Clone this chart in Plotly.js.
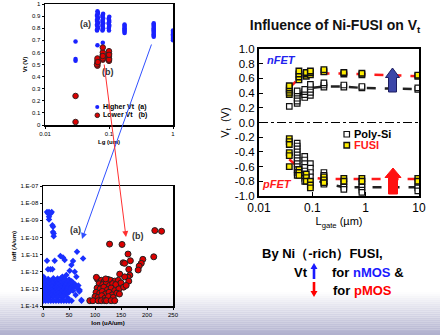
<!DOCTYPE html>
<html><head><meta charset="utf-8">
<script src="https://cdn.plot.ly/plotly-3.0.1.min.js"></script>
<style>html,body{margin:0;padding:0;background:#fff;overflow:hidden}#chart{width:440px;height:335px}</style>
</head><body><div id="chart"></div>
<script>
// ---------- Top-left: Vt vs Lg ----------
const lgHigh = [0.03,0.03,0.03,
  0.066,0.065,0.067,0.065,0.067,0.065,0.067,0.065,0.067,0.066,0.065,0.067,0.065,0.067,0.065,0.067,0.065,0.067,
  0.08,0.079,0.081,0.079,0.081,0.079,0.081,0.079,0.081,0.08,0.08,0.08,0.08,0.08,0.08,0.08,
  0.1,0.099,0.101,0.099,0.101,0.099,0.101,0.1,0.1,0.1,0.1,
  0.175,0.175,0.175,0.175,0.175,0.175,0.175,0.175,
  0.5,0.5,0.5,0.5,0.5,0.5,0.5,0.5,0.5,0.5,0.5,0.5,
  1.0,1.0,1.0,1.0,1.0,1.0,1.0,1.0,1.0];
const vtHigh = [0.69,0.53,0.545,
  0.66,0.78,0.80,0.82,0.84,0.86,0.88,0.90,0.92,0.94,0.79,0.81,0.83,0.85,0.87,0.89,0.91,0.93,
  0.68,0.78,0.80,0.82,0.84,0.86,0.88,0.90,0.92,0.79,0.81,0.83,0.85,0.87,0.89,0.91,
  0.78,0.80,0.82,0.84,0.86,0.88,0.895,0.81,0.83,0.85,0.87,
  0.76,0.77,0.78,0.79,0.80,0.81,0.82,0.83,
  0.73,0.74,0.75,0.76,0.77,0.78,0.79,0.80,0.81,0.82,0.83,0.84,
  0.70,0.71,0.72,0.73,0.74,0.75,0.76,0.77,0.78];
const lgLow = [0.03,0.03, 0.066,0.066,0.066,0.066,0.065,0.067, 0.08,0.08,0.08,0.08,0.08,0.08,0.08, 0.1,0.1,0.1,0.1,0.1,0.1,0.1];
const vtLow = [0.24,0.025, 0.49,0.51,0.53,0.55,0.50,0.52, 0.54,0.56,0.58,0.60,0.64,0.55,0.57, 0.53,0.55,0.57,0.59,0.61,0.54,0.58];

// ---------- Bottom-left: Ioff vs Ion (Ioff stored as log10 exponent) ----------
const ionBlue = [7.7,11.5,16.7,9.6,14.8,11.5,11.5,18,19.2,19.2,20.6,20.6,65.4,77,33.4,38.5,41.7,7.7,22.5,57.7,54.6,9.6,14.2,18,51.3,61,64.2,37.3,45,1,70.6,62.9,73.8,90,
  2,10,20,28,35,42,50,
  5,14,22,30,33,38,45,55,
  1,8,17,25,31,36,40,48,58,
  3,11,19,27,34,39,44,52,62,
  0.5,6,15,23,29,37,43,50,60,68,
  2,9,18,26,32,41,47,55,65,
  4,12,21,28,35,40,46,53,
  1,7,16,24,31,38,44,58,70,
  3,10,19,27,34,42,50,
  0.5,6,14,22,30,37,45,
  2,9,17,25,33,40,
  4,12,20,28,36,48,
  0.5,5,10,15,20,25,30,35,40,45,50,55,74];
const ioffBlueExp = [-8.51,-8.51,-8.51,-8.61,-8.61,-8.80,-8.96,-9.29,-9.38,-9.68,-9.77,-9.93,-10.84,-11.23,-11.09,-11.17,-11.32,-11.36,-11.36,-11.38,-11.61,-11.86,-11.86,-11.86,-11.94,-12.0,-12.29,-12.29,-12.19,-12.3,-13.07,-13.36,-13.65,-13.7,
  -12.4,-12.42,-12.38,-12.4,-12.36,-12.41,-12.45,
  -12.5,-12.52,-12.48,-12.5,-12.47,-12.53,-12.5,-12.55,
  -12.6,-12.62,-12.58,-12.6,-12.57,-12.63,-12.6,-12.61,-12.65,
  -12.7,-12.72,-12.68,-12.7,-12.67,-12.73,-12.7,-12.71,-12.75,
  -12.8,-12.82,-12.78,-12.8,-12.77,-12.83,-12.8,-12.81,-12.85,-12.8,
  -12.9,-12.92,-12.88,-12.9,-12.87,-12.93,-12.9,-12.91,-12.95,
  -13.0,-13.02,-12.98,-13.0,-12.97,-13.03,-13.0,-13.01,
  -13.1,-13.12,-13.08,-13.1,-13.07,-13.13,-13.1,-13.11,-13.15,
  -13.2,-13.22,-13.18,-13.2,-13.17,-13.23,-13.2,
  -13.3,-13.32,-13.28,-13.3,-13.27,-13.33,-13.3,
  -13.4,-13.42,-13.38,-13.4,-13.37,-13.43,
  -13.5,-13.52,-13.48,-13.5,-13.47,-13.53,
  -13.7,-13.7,-13.7,-13.7,-13.7,-13.7,-13.7,-13.7,-13.7,-13.7,-13.7,-13.7,-13.7];
const ionRed = [128,152,163.5,213,154,157,168,192,189,185,183,165,147.5,167,163.5,215,228,
  105,112,118,125,130,138,145,108,115,122,128,134,140,150,104,110,117,124,131,138,146,155,102,109,114,120,127,133,142,100,106,113,119,126,135,157,165,160,147,102.6,120.6,
  90,96,106,112,119,122,131,138];
const ioffRedExp = [-10.39,-10.41,-10.97,-11.13,-11.48,-11.51,-11.36,-11.28,-11.51,-11.67,-11.9,-11.86,-12.14,-12.2,-12.33,-9.6,-9.64,
  -12.45,-12.5,-12.55,-12.45,-12.5,-12.55,-12.5,-12.7,-12.75,-12.65,-12.8,-12.7,-12.75,-12.65,-12.95,-13.0,-12.9,-13.05,-12.95,-13.1,-13.0,-12.9,-13.2,-13.25,-13.15,-13.3,-13.2,-13.35,-13.25,-13.45,-13.5,-13.4,-13.55,-13.45,-13.5,-12.3,-12.55,-12.8,-13.3,-12.33,-12.42,
  -13.69,-13.69,-13.69,-13.69,-13.69,-13.69,-13.69,-13.69];

// ---------- Right: Vt vs Lgate ----------
const polyLg = [0.037, 0.052,0.052,0.052,0.052,0.052,0.052, 0.072,0.072,0.072,0.072, 0.092,0.092,0.092,0.092,0.092, 0.165,0.165,0.165, 0.39,0.39, 0.85,0.85, 9.5,9.5,
  0.052,0.052,0.052,0.052,0.052,0.052,0.052,0.052,0.052,0.052,0.052,0.052, 0.072,0.072,0.072,0.072,0.072,0.072,0.072,0.072, 0.092,0.092,0.092,0.092, 0.165,0.165,0.165,0.165,0.165, 0.39,0.39,0.39, 0.85,0.85,0.85,0.85, 9.5,9.5,9.5];
const polyVt = [0.22, 0.26,0.29,0.33,0.37,0.40,0.43, 0.34,0.38,0.42,0.45, 0.37,0.41,0.45,0.49,0.52, 0.48,0.51,0.54, 0.48,0.51, 0.47,0.49, 0.45,0.47,
  -0.28,-0.32,-0.36,-0.40,-0.44,-0.48,-0.52,-0.56,-0.60,-0.64,-0.68,-0.72, -0.46,-0.51,-0.56,-0.61,-0.66,-0.71,-0.76,-0.80, -0.56,-0.62,-0.68,-0.74, -0.68,-0.72,-0.76,-0.80,-0.84, -0.84,-0.88,-0.91, -0.84,-0.88,-0.92,-0.95, -0.86,-0.89,-0.93];
const fusiLg = [0.037,0.037,0.037,0.037,0.037, 0.056,0.056,0.056,0.056, 0.077,0.077,0.077, 0.092,0.092,0.092, 0.165,0.165, 0.39,0.39, 0.85,0.85, 9.5,9.5,
  0.037,0.037,0.037,0.037,0.037,0.037, 0.056,0.056,0.056, 0.077,0.077,0.077, 0.092,0.092,0.092, 0.165,0.165,0.165, 0.39,0.39, 0.85,0.85, 9.5,9.5];
const fusiVt = [0.38,0.41,0.44,0.47,0.50, 0.58,0.62,0.66,0.70, 0.63,0.66,0.68, 0.65,0.68,0.70, 0.69,0.72, 0.66,0.68, 0.65,0.67, 0.63,0.645,
  -0.22,-0.26,-0.30,-0.41,-0.45,-0.60, -0.64,-0.68,-0.72, -0.70,-0.75,-0.80, -0.80,-0.85,-0.89, -0.74,-0.78,-0.82, -0.76,-0.80, -0.76,-0.80, -0.76,-0.80];
const nFusiLineLg = [0.037,0.056,0.077,0.165,0.39,0.85,10];
const nFusiLineVt = [0.47,0.60,0.65,0.665,0.665,0.655,0.63];
const nPolyLineLg = [0.052,0.072,0.092,0.165,0.39,0.85,10];
const nPolyLineVt = [0.36,0.42,0.47,0.49,0.49,0.47,0.455];
const pFusiLineLg = [0.037,0.056,0.077,0.165,0.39,0.85,10];
const pFusiLineVt = [-0.50,-0.62,-0.74,-0.77,-0.77,-0.77,-0.77];
const pPolyLineLg = [0.072,0.092,0.165,0.39,0.85,10];
const pPolyLineVt = [-0.66,-0.73,-0.83,-0.88,-0.88,-0.88];

const yTicksR = [1,0.8,0.6,0.4,0.2,0,-0.2,-0.4,-0.6,-0.8,-1];
const yTickTextR = ['1.0','0.8','0.6','0.4','0.2','0.0','-0.2','-0.4','-0.6','-0.8','-1.0'];
const ioffTicks = [1e-14,1e-13,1e-12,1e-11,1e-10,1e-9,1e-8,1e-7];
const ioffTickText = ['1.E-14','1.E-13','1.E-12','1.E-11','1.E-10','1.E-09','1.E-08','1.E-07'];

// ---------- layout helpers (pixel -> paper) ----------
const W = 440, H = 335;
const fx = x => x / W, fy = y => 1 - y / H;
const F = 'Liberation Sans, Arial, sans-serif';
const pow10 = a => a.map(v => Math.pow(10, v));

const traces = [
  {x: lgHigh, y: vtHigh, xaxis:'x', yaxis:'y', mode:'markers', type:'scatter',
   marker:{symbol:'circle', size:4.5, color:'#1a22ff'}},
  {x: lgLow, y: vtLow, xaxis:'x', yaxis:'y', mode:'markers', type:'scatter',
   marker:{symbol:'circle', size:5.5, color:'#dd0000', line:{color:'#3a2020', width:1}}},
  {x: ionBlue, y: pow10(ioffBlueExp), xaxis:'x2', yaxis:'y2', mode:'markers', type:'scatter',
   marker:{symbol:'diamond', size:5, color:'#1a30ff'}},
  {x: ionRed, y: pow10(ioffRedExp), xaxis:'x2', yaxis:'y2', mode:'markers', type:'scatter',
   marker:{symbol:'circle', size:6, color:'#dd0000', line:{color:'#222', width:1}}},
  {x: nPolyLineLg, y: nPolyLineVt, xaxis:'x3', yaxis:'y3', mode:'lines', type:'scatter', line:{color:'#222', width:2.5, dash:'dash'}},
  {x: pPolyLineLg, y: pPolyLineVt, xaxis:'x3', yaxis:'y3', mode:'lines', type:'scatter', line:{color:'#222', width:2.5, dash:'dash'}},
  {x: nFusiLineLg, y: nFusiLineVt, xaxis:'x3', yaxis:'y3', mode:'lines', type:'scatter', line:{color:'#ff1a1a', width:2.5, dash:'dash'}},
  {x: pFusiLineLg, y: pFusiLineVt, xaxis:'x3', yaxis:'y3', mode:'lines', type:'scatter', line:{color:'#ff1a1a', width:2.5, dash:'dash'}},
  {x: polyLg, y: polyVt, xaxis:'x3', yaxis:'y3', mode:'markers', type:'scatter',
   marker:{symbol:'square', size:5.5, color:'#ffffff', line:{color:'#111', width:1.2}}},
  {x: fusiLg, y: fusiVt, xaxis:'x3', yaxis:'y3', mode:'markers', type:'scatter',
   marker:{symbol:'square', size:5.5, color:'#ffee00', line:{color:'#111', width:1.4}}}
];

const smallAxis = {showline:true, mirror:true, linecolor:'#000', linewidth:1.5, showgrid:false, zeroline:false,
  ticks:'outside', ticklen:2, tickwidth:1, tickcolor:'#000', tickfont:{family:F, size:6, color:'#000'}};

const shapes = [];
// bottom gradient band
const g0 = 292, g1 = 335, nS = 22;
for (let i = 0; i < nS; i++) {
  const t = (i + 0.5) / nS;
  const r = Math.round(255 - t * 80), g = Math.round(255 - t * 80), b = Math.round(255 - t * 50);
  shapes.push({type:'rect', xref:'paper', yref:'paper', x0:0, x1:1,
    y0: fy(g0 + (g1 - g0) * (i + 1) / nS), y1: fy(g0 + (g1 - g0) * i / nS),
    fillcolor:`rgb(${r},${g},${b})`, line:{width:0}, layer:'below'});
}
// zero dash-dot line
shapes.push({type:'line', xref:'x3 domain', yref:'y3', x0:0, x1:1, y0:0, y1:0, line:{color:'#000', width:1, dash:'dashdot'}});
// block arrows on right chart
function blockArrow(cx, top, headBase, bottom, hw, sw) {
  const P = (x, y) => fx(x) + ',' + fy(y);
  return 'M' + P(cx, top) + ' L' + P(cx + hw, headBase) + ' L' + P(cx + sw, headBase) + ' L' + P(cx + sw, bottom) +
    ' L' + P(cx - sw, bottom) + ' L' + P(cx - sw, headBase) + ' L' + P(cx - hw, headBase) + ' Z';
}
shapes.push({type:'path', xref:'paper', yref:'paper', path: blockArrow(392.5, 68, 77.5, 92, 7, 4), fillcolor:'#3c46a8', line:{color:'#1c1c60', width:1}});
shapes.push({type:'path', xref:'paper', yref:'paper', path: blockArrow(393, 168, 177.5, 194, 8, 4.5), fillcolor:'#ff1010', line:{color:'#ff1010', width:1}});
// thin arrows in the bottom text
function thinArrow(cx, tip, tail, dir) {
  const P = (x, y) => fx(x) + ',' + fy(y);
  const hb = tip + dir * 6;
  return 'M' + P(cx, tip) + ' L' + P(cx + 3.5, hb) + ' L' + P(cx + 1.3, hb) + ' L' + P(cx + 1.3, tail) +
    ' L' + P(cx - 1.3, tail) + ' L' + P(cx - 1.3, hb) + ' L' + P(cx - 3.5, hb) + ' Z';
}
shapes.push({type:'path', xref:'paper', yref:'paper', path: thinArrow(314, 263, 279, 1), fillcolor:'#1a1aff', line:{width:0}});
shapes.push({type:'path', xref:'paper', yref:'paper', path: thinArrow(314, 297, 282, -1), fillcolor:'#ff0000', line:{width:0}});
// legend markers
shapes.push({type:'circle', xref:'paper', yref:'paper', x0:fx(95.2), x1:fx(99.3), y0:fy(109.1), y1:fy(105), fillcolor:'#1a22ff', line:{width:0}});
shapes.push({type:'circle', xref:'paper', yref:'paper', x0:fx(95), x1:fx(99.6), y0:fy(117.6), y1:fy(113), fillcolor:'#dd0000', line:{color:'#3a2020', width:1}});
shapes.push({type:'rect', xref:'paper', yref:'paper', x0:fx(344), x1:fx(349.5), y0:fy(137), y1:fy(131.5), fillcolor:'#fff', line:{color:'#111', width:1.2}});
shapes.push({type:'rect', xref:'paper', yref:'paper', x0:fx(344), x1:fx(349.5), y0:fy(148), y1:fy(142.5), fillcolor:'#ffee00', line:{color:'#111', width:1.4}});

function txt(text, x, y, size, opts) {
  return Object.assign({text, xref:'paper', yref:'paper', x:fx(x), y:fy(y), showarrow:false,
    xanchor:'center', yanchor:'middle', font:{family:F, size, color:'#000'}}, opts || {});
}
const annotations = [
  txt('<b>(a)</b>', 85, 24, 9, {font:{family:F, size:9, color:'#333'}}),
  txt('<b>(b)</b>', 108, 72, 9, {font:{family:F, size:9, color:'#333'}}),
  txt('<b>Higher Vt  (a)</b>', 101, 107, 7, {xanchor:'left'}),
  txt('<b>Lower Vt   (b)</b>', 101, 115.5, 7, {xanchor:'left'}),
  txt('<b>(a)</b>', 75, 230, 9, {font:{family:F, size:9, color:'#333'}}),
  txt('<b>(b)</b>', 138, 236, 9, {font:{family:F, size:9, color:'#333'}}),
  txt('<b><i>nFET</i></b>', 281, 60, 11, {font:{family:F, size:11, color:'#2222ee'}}),
  txt('<b><i>pFET</i></b>', 277, 184, 11, {font:{family:F, size:11, color:'#ff1a1a'}}),
  txt('<b>Poly-Si</b>', 352, 134, 11, {xanchor:'left'}),
  txt('<b>FUSI</b>', 352, 145, 11, {xanchor:'left', font:{family:F, size:11, color:'#ff1a1a'}}),
  txt('<b>By Ni（-rich）FUSI,</b>', 322, 253, 13),
  txt('<b>Vt</b>', 300.5, 272, 13),
  txt('<b>for <span style="color:#1a1aff">nMOS</span> &amp;</b>', 368, 272, 13),
  txt('<b>for <span style="color:#ff0000">pMOS</span></b>', 362, 290, 13),
  // connecting arrows between left charts
  {xref:'paper', yref:'paper', x:fx(82), y:fy(239), ax:70, ay:-196, showarrow:true, arrowhead:2, arrowsize:1.2, arrowwidth:1, arrowcolor:'#3050ff', text:''},
  {xref:'paper', yref:'paper', x:fx(126), y:fy(237), ax:-22, ay:-174, showarrow:true, arrowhead:2, arrowsize:1.2, arrowwidth:1, arrowcolor:'#ff3030', text:''}
];

const layout = {
  width: W, height: H, margin:{l:0, r:0, t:0, b:0}, showlegend:false,
  paper_bgcolor:'#fff', plot_bgcolor:'#fff', font:{family:F, color:'#000'},
  title:{text:'<b>Influence of Ni-FUSI on V<sub>t</sub></b>', x:fx(335), y:fy(25), xanchor:'center', yanchor:'middle',
    font:{family:F, size:14, color:'#111'}},
  xaxis: Object.assign({}, smallAxis, {domain:[fx(45), fx(173)], anchor:'y', type:'log', range:[-2, 0],
    tickvals:[0.01, 0.1, 1], ticktext:['0.01','0.1','1'],
    title:{text:'<b>Lg (um)</b>', font:{family:F, size:6, color:'#000'}, standoff:4}}),
  yaxis: Object.assign({}, smallAxis, {domain:[fy(125), fy(4)], anchor:'x', range:[0, 1], dtick:0.1,
    title:{text:'<b>Vt (V)</b>', font:{family:F, size:6, color:'#000'}, standoff:4}}),
  xaxis2: Object.assign({}, smallAxis, {domain:[fx(43), fx(173)], anchor:'y2', range:[0, 250], dtick:50,
    title:{text:'<b>Ion (uA/um)</b>', font:{family:F, size:6, color:'#000'}, standoff:4}}),
  yaxis2: Object.assign({}, smallAxis, {domain:[fy(306), fy(186)], anchor:'x2', type:'log', range:[-14, -7],
    tickvals: ioffTicks, ticktext: ioffTickText,
    title:{text:'<b>Ioff (A/um)</b>', font:{family:F, size:6, color:'#000'}, standoff:3}}),
  xaxis3: {domain:[fx(259), fx(419)], anchor:'y3', type:'log', range:[-2, 1],
    tickvals:[0.01, 0.1, 1, 10], ticktext:['0.01','0.1','1','10'],
    showline:true, mirror:true, linecolor:'#000', linewidth:2, showgrid:false, zeroline:false,
    ticks:'inside', ticklen:4, tickcolor:'#000', tickfont:{family:F, size:12, color:'#000'},
    title:{text:'L<sub>gate</sub> (µm)', font:{family:F, size:11, color:'#000'}, standoff:1}},
  yaxis3: {domain:[fy(196), fy(49)], anchor:'x3', range:[-1, 1],
    tickvals: yTicksR, ticktext: yTickTextR,
    showline:true, mirror:true, linecolor:'#000', linewidth:2, showgrid:false, zeroline:false,
    ticks:'inside', ticklen:4, tickcolor:'#000', tickfont:{family:F, size:11.5, color:'#000'},
    title:{text:'V<sub>t</sub>  (V)', font:{family:F, size:11, color:'#000'}, standoff:3}},
  shapes, annotations
};

Plotly.newPlot('chart', traces, layout, {displayModeBar:false, staticPlot:true});
</script></body></html>
